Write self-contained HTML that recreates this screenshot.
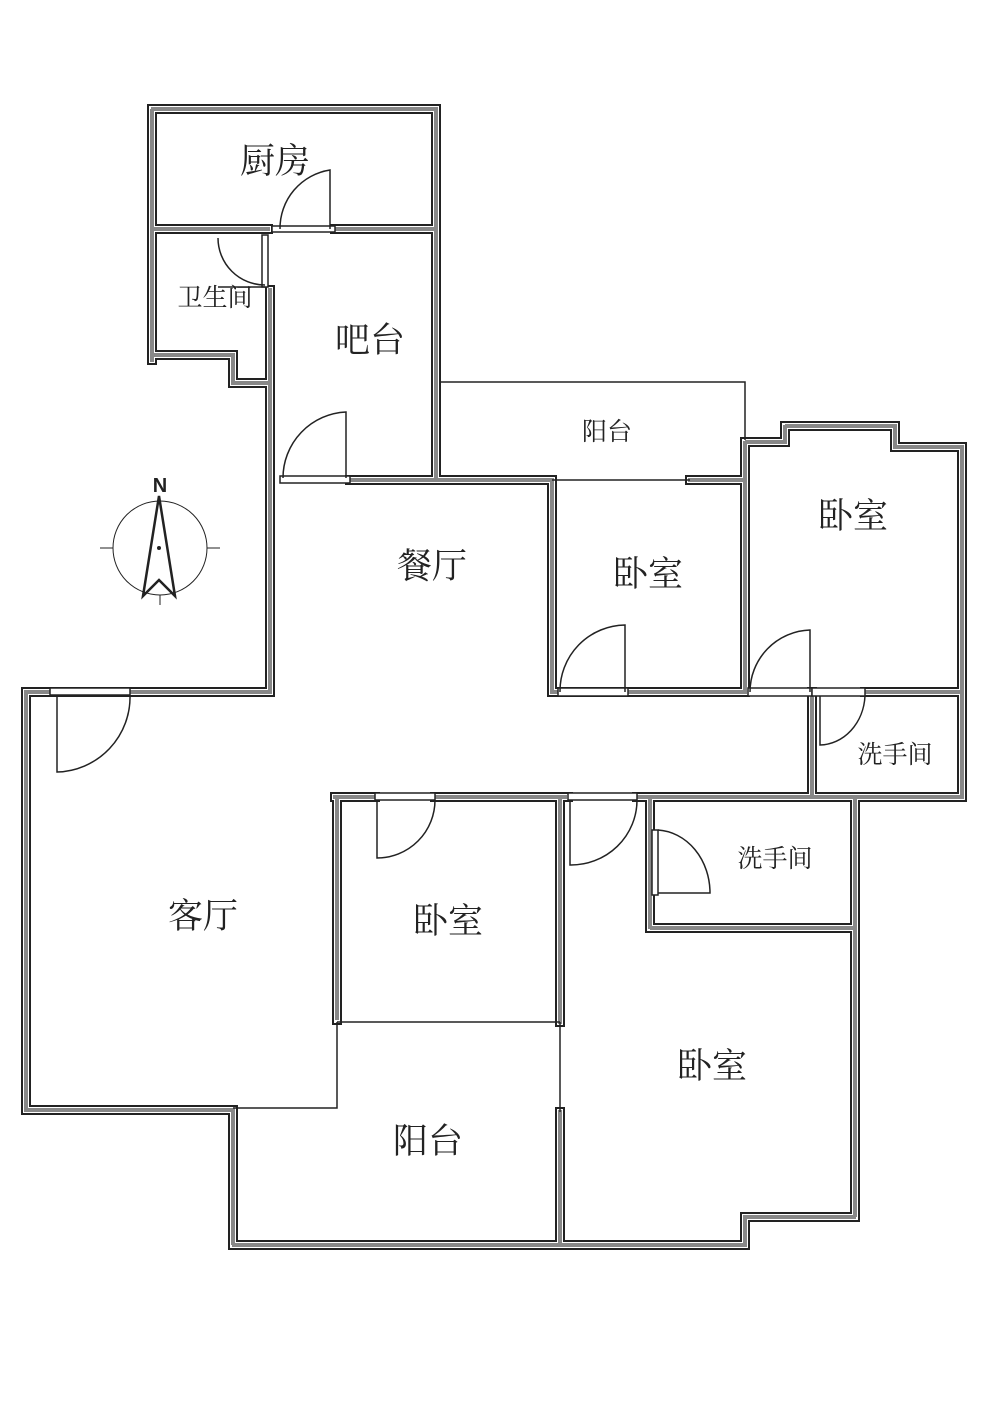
<!DOCTYPE html>
<html><head><meta charset="utf-8"><style>
html,body{margin:0;padding:0;background:#fff;}
svg{display:block;}
text{font-family:"Liberation Serif","Noto Serif CJK SC",serif;fill:#222;}
</style></head><body>
<svg width="1000" height="1408" viewBox="0 0 1000 1408" xmlns="http://www.w3.org/2000/svg">
<defs>
<path id="w" d="
M152,360 L152,109 L436,109 L436,480 L552,480 L552,692 L745,692
M152,229 L268,229
M335,229 L436,229
M152,355 L233,355 L233,383 L268,383
M270,290 L270,692 L26,692 L26,1110 L233,1110 L233,1245 L745,1245 L745,1217 L855,1217 L855,797
M690,480 L745,480
M745,692 L745,442 L785,442 L785,426 L895,426 L895,447 L962,447 L962,797 L812,797 L812,692
M865,692 L962,692
M350,480 L436,480
M335,797 L375,797 M435,797 L568,797 M637,797 L855,797
M337,797 L337,1020
M560,797 L560,1022
M560,1112 L560,1245
M650,797 L650,928 L855,928
M130,692 L270,692
"/>
</defs>
<g fill="none" stroke-linejoin="miter" stroke-linecap="square">
<use href="#w" stroke="#222" stroke-width="10"/>
<use href="#w" stroke="#fff" stroke-width="6"/>
<use href="#w" stroke="#888" stroke-width="4" stroke-dasharray="4 3"/>
</g>
<g fill="#fff" stroke="#222" stroke-width="1.5">
<rect x="272" y="226" width="63" height="6"/>
<rect x="262" y="235" width="6" height="52"/>
<rect x="280" y="476" width="70" height="7"/>
<rect x="50" y="688" width="80" height="7"/>
<rect x="558" y="688" width="70" height="8"/>
<rect x="748" y="688" width="64" height="8"/>
<rect x="812" y="688" width="53" height="8"/>
<rect x="375" y="793" width="60" height="7"/>
<rect x="568" y="793" width="69" height="7"/>
<rect x="652" y="830" width="6" height="65"/>
</g>
<g stroke="#222" stroke-width="1.5" fill="none">
<path d="M441,382 L745,382 L745,440"/>
<path d="M552,480 L690,480"/>
<path d="M337,1022 L560,1022"/>
<path d="M337,1022 L337,1108 L233,1108"/>
<path d="M560,1022 L560,1112"/>
<path d="M330,229 L330,170 A59,59 0 0 0 280,229"/>
<path d="M265,287 L218,287 M218,238 A47,47 0 0 0 265,285"/>
<path d="M346,478 L346,412 A66,66 0 0 0 283,478"/>
<path d="M57,695 L57,772 A75,75 0 0 0 130,695"/>
<path d="M625,692 L625,625 A66,66 0 0 0 560,692"/>
<path d="M810,692 L810,630 A62,62 0 0 0 750,692"/>
<path d="M820,696 L820,745 A46,52 0 0 0 865,696"/>
<path d="M377,800 L377,858 A58,58 0 0 0 435,800"/>
<path d="M570,800 L570,865 A66,65 0 0 0 637,800"/>
<path d="M658,893 L710,893 A55,63 0 0 0 658,830"/>
</g>
<g stroke="#222" fill="none">
<circle cx="160" cy="548" r="47" stroke-width="1"/>
<path d="M100,548 L113,548 M207,548 L220,548 M160,595 L160,605" stroke-width="1"/>
<path d="M159,496 L143,596 L159,580 L175,596 Z" stroke-width="2.5"/>
<circle cx="159" cy="548" r="1.5" fill="#222"/>
</g>
<text x="160" y="492" font-size="20" font-weight="bold" text-anchor="middle" style="font-family:'Liberation Sans',sans-serif">N</text>
<g text-anchor="middle">
<text x="275" y="173" font-size="35">厨房</text>
<text x="215" y="306" font-size="25">卫生间</text>
<text x="370" y="352" font-size="35">吧台</text>
<text x="607" y="440" font-size="25">阳台</text>
<text x="853" y="528" font-size="35">卧室</text>
<text x="432" y="578" font-size="35">餐厅</text>
<text x="648" y="586" font-size="35">卧室</text>
<text x="895" y="763" font-size="25">洗手间</text>
<text x="203" y="928" font-size="35">客厅</text>
<text x="448" y="933" font-size="35">卧室</text>
<text x="775" y="867" font-size="25">洗手间</text>
<text x="712" y="1078" font-size="35">卧室</text>
<text x="428" y="1153" font-size="35">阳台</text>
</g>
</svg>
</body></html>
